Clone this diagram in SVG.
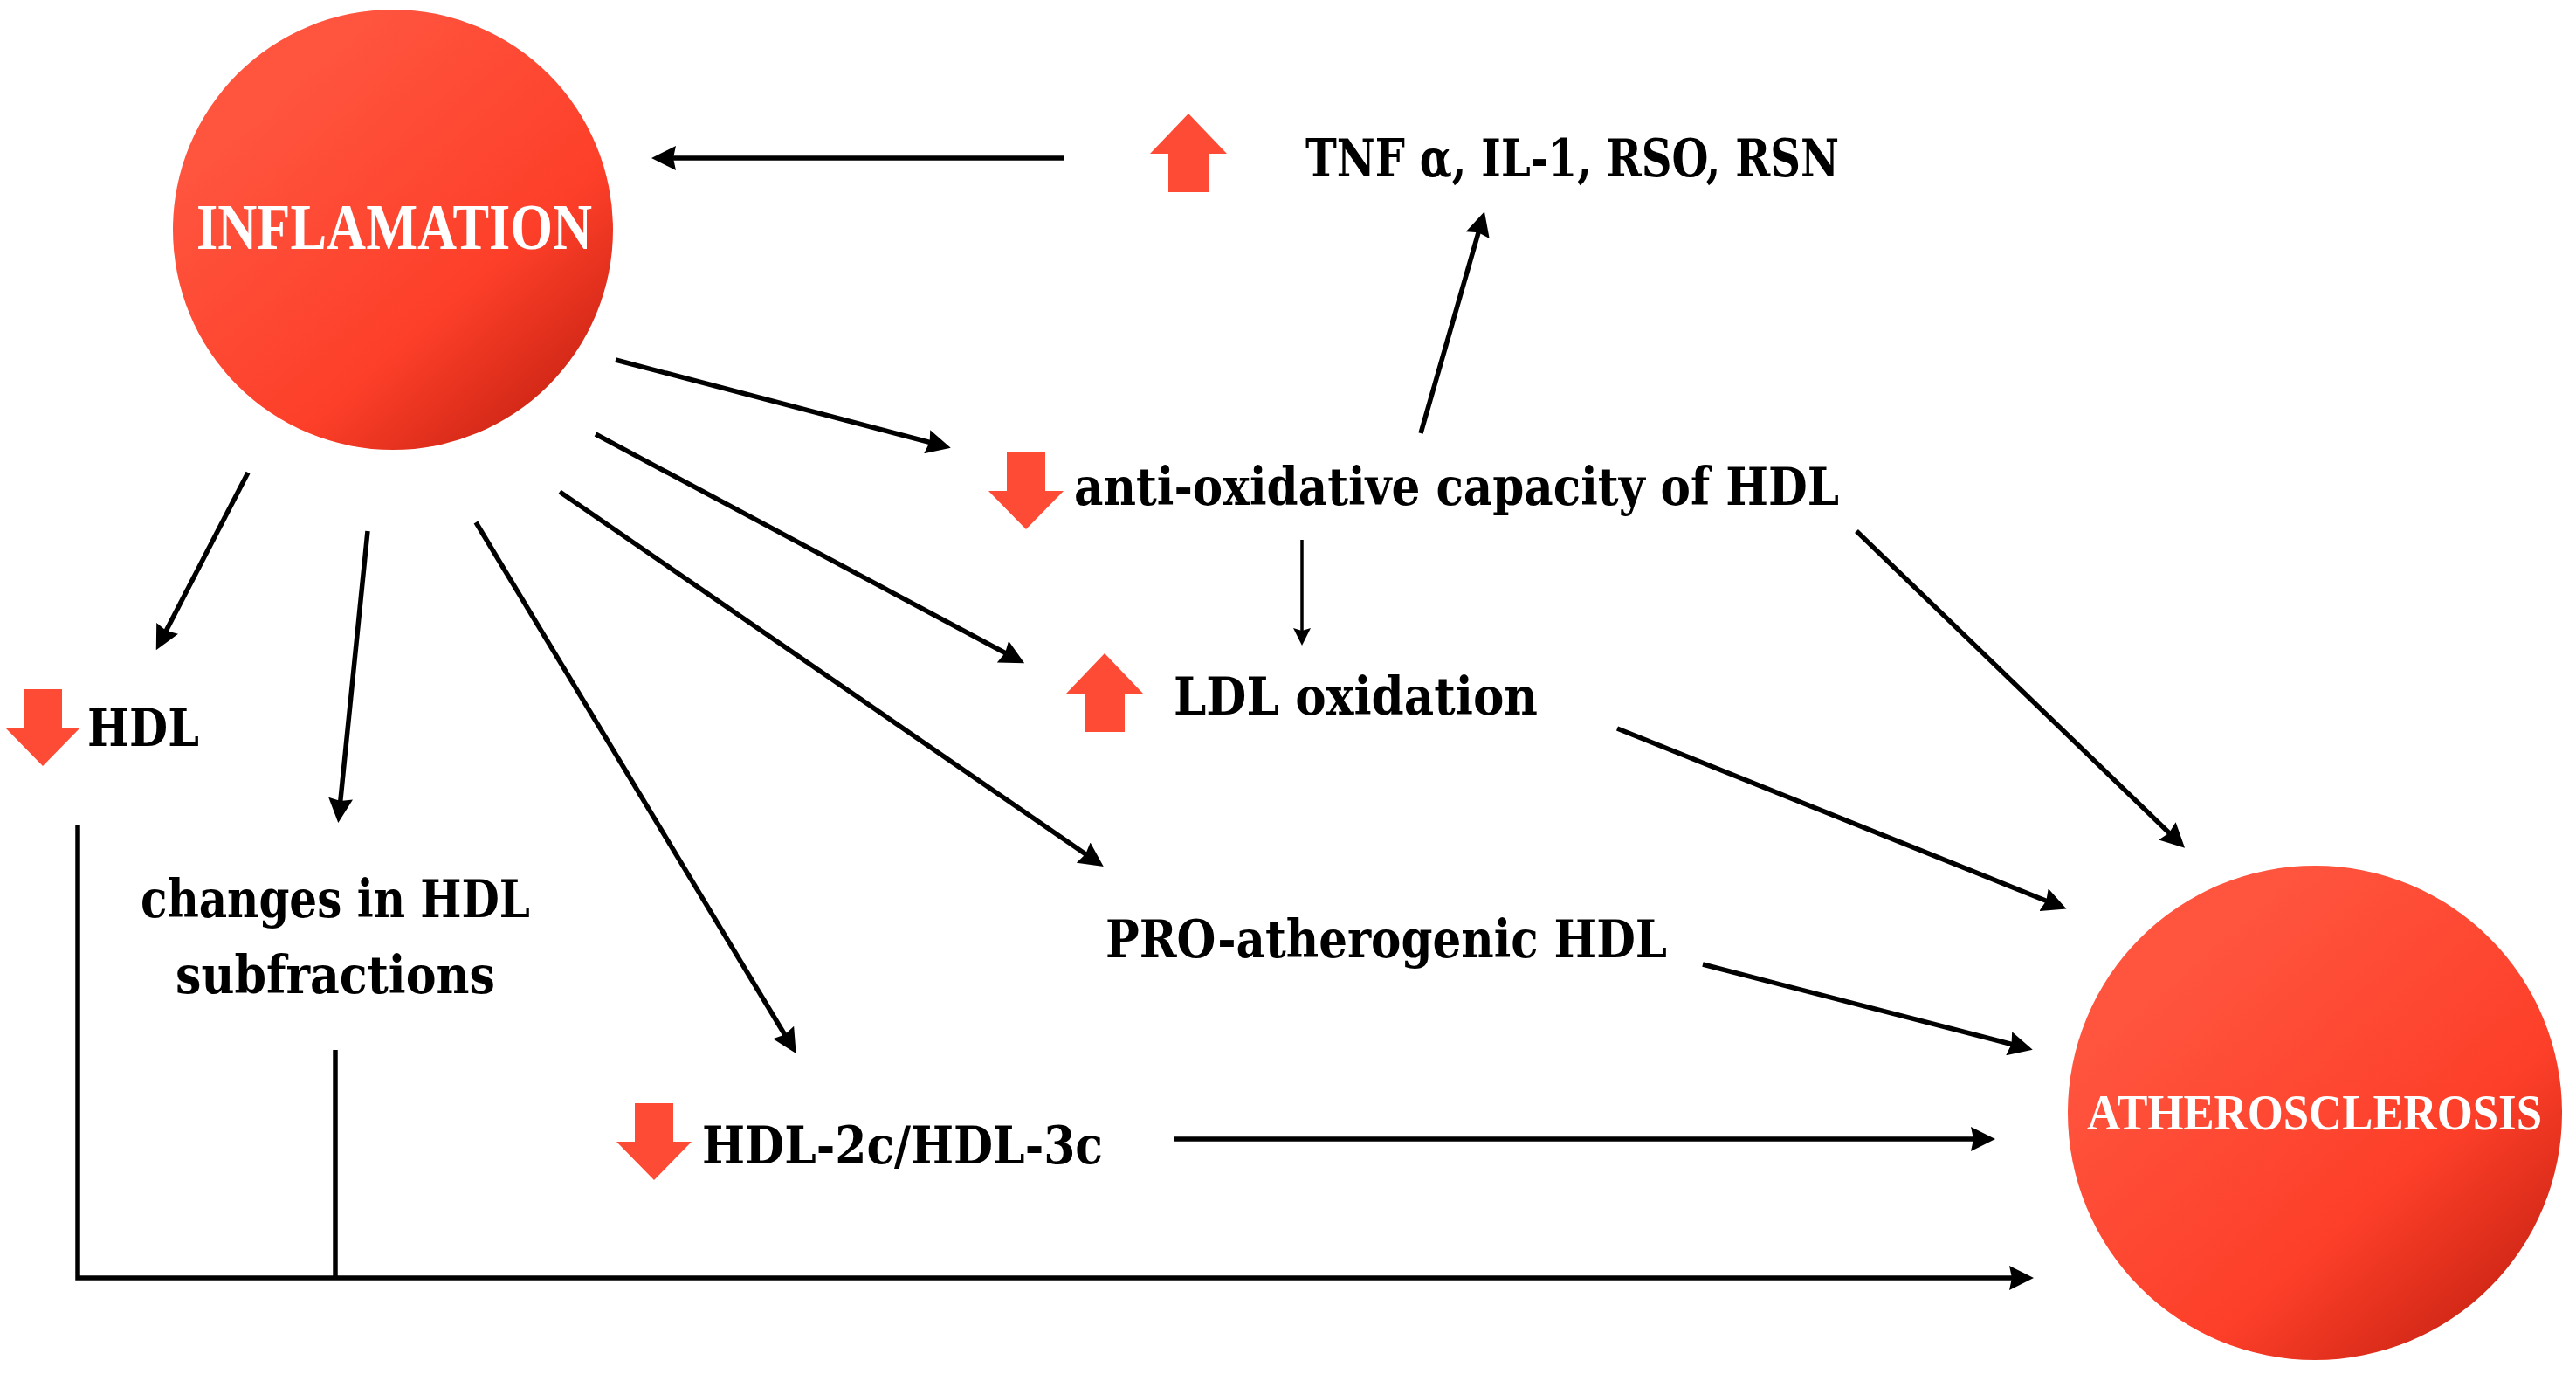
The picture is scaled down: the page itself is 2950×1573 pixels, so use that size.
<svg xmlns="http://www.w3.org/2000/svg" xmlns:xlink="http://www.w3.org/1999/xlink" width="2950" height="1573" viewBox="0 0 2950 1573">
<defs>
<style>
.lbl{font-family:"DejaVu Serif","Liberation Serif",serif;font-weight:bold;font-size:60px;fill:#000;}
.wht{font-family:"Liberation Serif","DejaVu Serif",serif;font-weight:bold;fill:#fff;}
.con{stroke:#000;stroke-width:5.5;fill:none;marker-end:url(#ah);}
.thin{stroke:#000;stroke-width:3.5;fill:none;marker-end:url(#ahs);}
.red{fill:#fe4b36;}
</style>
<linearGradient id="ball" x1="0.25" y1="0.15" x2="0.95" y2="0.95">
<stop offset="0" stop-color="#ff553f"/>
<stop offset="0.6" stop-color="#fd3f29"/>
<stop offset="1" stop-color="#c21f10"/>
</linearGradient>
<marker id="ah" markerUnits="userSpaceOnUse" markerWidth="28" markerHeight="28" viewBox="0 0 28 28" refX="21" refY="14" orient="auto">
<path d="M0,0 L28,14 L0,28 L3,14 Z" fill="#000"/>
</marker>
<marker id="ahs" markerUnits="userSpaceOnUse" markerWidth="20" markerHeight="20" viewBox="0 0 20 20" refX="15" refY="10" orient="auto">
<path d="M0,0 L20,10 L0,20 L3,10 Z" fill="#000"/>
</marker>
<path id="down" d="M-22,0 H22 V44 H43 L0,88 L-43,44 H-22 Z"/>
<path id="up" d="M0,0 L44,46 H23 V90 H-23 V46 H-44 Z"/>
</defs>
<rect width="2950" height="1573" fill="#fff"/>

<g id="connectors">
<line class="con" x1="1219" y1="181" x2="753" y2="181"/>
<line class="con" x1="1627" y1="496" x2="1698" y2="249"/>
<line class="con" x1="705" y1="412" x2="1082" y2="511"/>
<line class="con" x1="682" y1="497" x2="1167" y2="756"/>
<line class="con" x1="641" y1="563" x2="1258" y2="988"/>
<line class="con" x1="545" y1="598" x2="908" y2="1200"/>
<line class="con" x1="421" y1="608" x2="388" y2="935"/>
<line class="con" x1="284" y1="541" x2="182" y2="738"/>
<line class="thin" x1="1491" y1="618" x2="1491" y2="734"/>
<line class="con" x1="2126" y1="608" x2="2497" y2="966"/>
<line class="con" x1="1852" y1="834" x2="2360" y2="1038"/>
<line class="con" x1="1950" y1="1104" x2="2321" y2="1200"/>
<line class="con" x1="1344" y1="1304" x2="2278" y2="1304"/>
<path class="con" d="M89,945 V1463 H2322"/>
<path d="M384,1202 V1463" stroke="#000" stroke-width="5.5" fill="none"/>
</g>

<g id="inflamation">
<circle cx="450" cy="263" r="252" fill="url(#ball)"/>
<text class="wht" x="225" y="285" font-size="73" textLength="453" lengthAdjust="spacingAndGlyphs">INFLAMATION</text>
</g>

<g id="atherosclerosis">
<circle cx="2651" cy="1274" r="283" fill="url(#ball)"/>
<text class="wht" x="2390" y="1293" font-size="56" textLength="521" lengthAdjust="spacingAndGlyphs">ATHEROSCLEROSIS</text>
</g>

<g id="tnf">
<use href="#up" class="red" transform="translate(1361,130)"/>
<text class="lbl" x="1495" y="202" textLength="611" lengthAdjust="spacingAndGlyphs">TNF α, IL-1, RSO, RSN</text>
</g>

<g id="antioxidative">
<use href="#down" class="red" transform="translate(1175,518)"/>
<text class="lbl" x="1230" y="578" textLength="876" lengthAdjust="spacingAndGlyphs">anti-oxidative capacity of HDL</text>
</g>

<g id="ldl-oxidation">
<use href="#up" class="red" transform="translate(1265,748)"/>
<text class="lbl" x="1344" y="818" textLength="417" lengthAdjust="spacingAndGlyphs">LDL oxidation</text>
</g>

<g id="pro-atherogenic">
<text class="lbl" x="1266" y="1096" textLength="643" lengthAdjust="spacingAndGlyphs">PRO-atherogenic HDL</text>
</g>

<g id="hdl">
<use href="#down" class="red" transform="translate(49,789)"/>
<text class="lbl" x="100" y="854" textLength="128" lengthAdjust="spacingAndGlyphs">HDL</text>
</g>

<g id="changes">
<text class="lbl" x="161" y="1050" textLength="446" lengthAdjust="spacingAndGlyphs">changes in HDL</text>
<text class="lbl" x="201" y="1137" textLength="366" lengthAdjust="spacingAndGlyphs">subfractions</text>
</g>

<g id="hdl2c3c">
<use href="#down" class="red" transform="translate(749,1263)"/>
<text class="lbl" x="804" y="1332" textLength="459" lengthAdjust="spacingAndGlyphs">HDL-2c/HDL-3c</text>
</g>
</svg>
